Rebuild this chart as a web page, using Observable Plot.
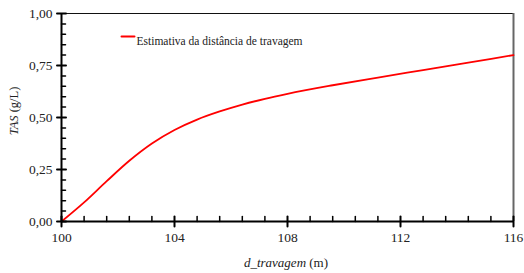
<!DOCTYPE html>
<html><head><meta charset="utf-8">
<script src="https://cdn.jsdelivr.net/npm/d3@7"></script>
<script src="https://cdn.jsdelivr.net/npm/@observablehq/plot@0.6"></script>
<style>body{margin:0;background:#fff}</style>
</head><body><div id="chart"></div>
<script>
const distance = [100, 100.8, 101.6, 102.4, 103.2, 104.0, 104.8, 105.6, 106.4, 107.2, 108.0, 109.6, 111.2, 112.8, 114.4, 116];
const tas = [0, 0.092, 0.194, 0.292, 0.375, 0.440, 0.490, 0.529, 0.562, 0.590, 0.614, 0.655, 0.692, 0.728, 0.764, 0.80];
const xTicks = [100, 104, 108, 112, 116];
const yTicks = [0, 0.25, 0.5, 0.75, 1];
const xMinor = [100.8, 101.6, 102.4, 103.2, 104.8, 105.6, 106.4, 107.2, 108.8, 109.6, 110.4, 111.2, 112.8, 113.6, 114.4, 115.2];
const yMinor = [0.05, 0.1, 0.15, 0.2, 0.3, 0.35, 0.4, 0.45, 0.55, 0.6, 0.65, 0.7, 0.8, 0.85, 0.9, 0.95];
const seriesName = "Estimativa da distância de travagem";
const xLabel = ["d_travagem", " (m)"];
const yLabel = ["TAS", " (g/L)"];

const FONT = "Liberation Serif, Tinos, Times New Roman, DejaVu Serif, serif";
const data = distance.map((d, i) => ({x: d, y: tas[i]}));
const fmt = d => d.toFixed(2).replace(".", ",");
const stick = {draw(context, l) { context.moveTo(0, 0); context.lineTo(0, -l); }};

const plot = Plot.plot({
  width: 524, height: 273,
  marginLeft: 61, marginRight: 11, marginTop: 13, marginBottom: 52,
  style: {fontFamily: FONT, fontSize: "13.5px", color: "#222", background: "#fff"},
  x: {domain: [100, 116], axis: null},
  y: {domain: [0, 1], axis: null},
  marks: [
    Plot.ruleY([1], {stroke: "#111", strokeWidth: 1}),
    Plot.ruleX([116], {stroke: "#666", strokeWidth: 2}),
    Plot.line(data, {x: "x", y: "y", stroke: "#f00", strokeWidth: 1.8, curve: "monotone-x"}),
    Plot.ruleX([100], {stroke: "#000", strokeWidth: 2}),
    Plot.ruleY([0], {stroke: "#000", strokeWidth: 2}),
    Plot.vector(yMinor, {y: d => d, frameAnchor: "left", length: 4, rotate: 90, anchor: "start", shape: stick, stroke: "#000", strokeWidth: 1.5}),
    Plot.vector(yTicks, {y: d => d, frameAnchor: "left", length: 9, rotate: 90, anchor: "middle", shape: stick, stroke: "#000", strokeWidth: 2}),
    Plot.vector(xMinor, {x: d => d, frameAnchor: "bottom", length: 5, rotate: 0, anchor: "start", shape: stick, stroke: "#000", strokeWidth: 1.5}),
    Plot.vector(xTicks, {x: d => d, frameAnchor: "bottom", length: 10, rotate: 0, anchor: "middle", shape: stick, stroke: "#000", strokeWidth: 2}),
    Plot.axisY({ticks: yTicks, tickSize: 0, tickPadding: 9, tickFormat: fmt, label: null, fontSize: 13.5, fontFamily: FONT}),
    Plot.axisX({ticks: xTicks, tickSize: 0, tickPadding: 11, tickFormat: d => String(d), label: null, fontSize: 13.5, fontFamily: FONT}),
    Plot.vector([seriesName], {frameAnchor: "top-left", dx: 60, dy: 23, length: 13, rotate: 90, anchor: "start", shape: stick, stroke: "#f00", strokeWidth: 2}),
    Plot.text([seriesName], {text: d => d, frameAnchor: "top-left", dx: 75, dy: 23, textAnchor: "start", fontSize: 11.5, fontFamily: FONT, fill: "#222"})
  ]
});
document.getElementById("chart").appendChild(plot);

const svg = d3.select(plot);
const xt = svg.append("text").attr("x", 286).attr("y", 267).attr("text-anchor", "middle")
  .attr("font-family", FONT).attr("font-size", 13).attr("fill", "#222");
xt.append("tspan").attr("font-style", "italic").text(xLabel[0]);
xt.append("tspan").text(xLabel[1]);
const yt = svg.append("text").attr("transform", "translate(18,111) rotate(-90)").attr("text-anchor", "middle")
  .attr("font-family", FONT).attr("font-size", 12.5).attr("fill", "#222");
yt.append("tspan").attr("font-style", "italic").text(yLabel[0]);
yt.append("tspan").text(yLabel[1]);
</script>
</body></html>
